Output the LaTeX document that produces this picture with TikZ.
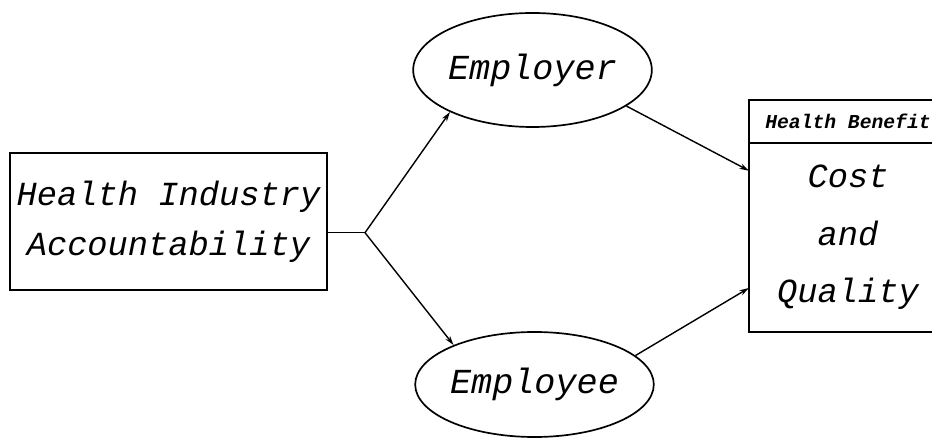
\documentclass[tikz,border=0pt]{standalone}
\usepackage{fontspec}
\newfontfamily\plotfont{Liberation Mono}
\usetikzlibrary{positioning,arrows.meta,shapes.geometric}

\begin{document}
\begin{tikzpicture}[
	big/.style={font=\plotfont\itshape\fontsize{24}{35.5}\selectfont, align=center},
	blob/.style={draw, ellipse, line width=1.2pt, inner sep=0pt, big, font=\plotfont\itshape\fontsize{25}{30}\selectfont},
	box/.style={draw, rectangle, line width=1.4pt, inner sep=0pt, outer sep=0pt},
	link/.style={line width=1pt, -{Stealth[length=2.4mm,width=1.4mm]}}
]
	\useasboundingbox (0,0) rectangle (23.3,11);
	\clip (0,0) rectangle (23.3,11); % the right box runs off the page
	
	\def\bw{4.95};% width of the right box
	
	% left box
	\node[box, big, minimum width=7.925cm, minimum height=3.425cm] (hia) at (4.2125,5.4625)
		{Health Industry\\Accountability};
	
	% the two ellipses
	\node[blob, minimum width=5.875cm, minimum height=2.85cm] (employer) at (13.3125,9.25) {Employer};
	\node[blob, minimum width=5.875cm, minimum height=2.625cm] (employee) at (13.3625,1.3875) {Employee};
	
	% right box: small header on top of the body
	\node[box, minimum width=\bw cm, minimum height=1.075cm,
		font=\plotfont\itshape\bfseries\fontsize{14}{16}\selectfont] (hdr) at (21.2,7.9625) {Health Benefit};
	\node[box, big, minimum width=\bw cm, minimum height=4.725cm, below=0pt of hdr,
		font=\plotfont\itshape\fontsize{24}{41}\selectfont] (cq) {Cost\\and\\Quality};
	
	% fork out of the left box
	\coordinate (fork) at (9.125,5.1825);
	\draw[line width=1pt] (hia.east |- fork) -- (fork);
	\draw[link] (fork) -- (employer.207.5);
	\draw[link] (fork) -- (employee.154);
	
	% into the right box
	\draw[link] (employer.339) -- (cq.146);
	\draw[link] (employee.16) -- (cq.207);
	
\end{tikzpicture}
\end{document}
